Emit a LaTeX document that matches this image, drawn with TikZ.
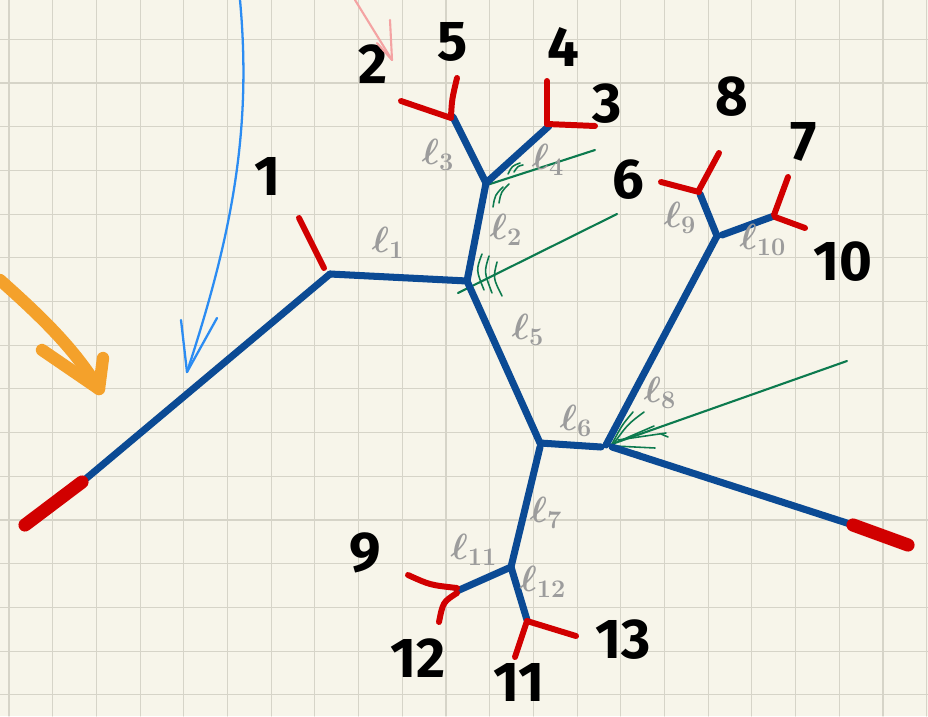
\documentclass[tikz,border=0pt]{standalone}
\usepackage{fontspec}
\usepackage{tikz}
\usetikzlibrary{positioning}
\newfontfamily\numfont{Fira Sans}

\definecolor{paper}{HTML}{F7F5EA}
\definecolor{gridc}{HTML}{D6D4C8}
\definecolor{treeblue}{HTML}{0B4A94}
\definecolor{leafred}{HTML}{D10000}
\definecolor{hatchgreen}{HTML}{0C7A4E}
\definecolor{markorange}{HTML}{F4A12B}
\definecolor{skyblue}{HTML}{2B8CF2}
\definecolor{pinkish}{HTML}{F4A3A3}
\definecolor{lgray}{HTML}{9C9C9C}

\begin{document}
\begin{tikzpicture}[
  x=0.02cm, y=-0.02cm, line cap=round, line join=round,
  branch/.style={treeblue, line width=4pt},
  leaf/.style={leafred, line width=3.4pt},
  stemend/.style={leafred, line width=7.5pt},
  hatch/.style={hatchgreen, line width=0.9pt},
  num/.style={inner sep=0pt, font=\fontsize{32}{32}\selectfont\numfont\bfseries},
  len/.style={font=\fontsize{20}{20}\selectfont\boldmath, text=lgray}
]

% Paper and grid
\fill[paper] (0,0) rectangle (928,716);
\useasboundingbox (0,0) rectangle (928,716);
\foreach \i in {0,...,21} \draw[gridc, line width=0.6pt] (9+43.7*\i,0) -- (9+43.7*\i,716);
\foreach \j in {0,...,15} \draw[gridc, line width=0.6pt] (0,39.3+43.7*\j) -- (928,39.3+43.7*\j);

% Inner vertices
\coordinate (jc) at (330,274);
\coordinate (ja) at (467,281);
\coordinate (jb) at (486,183);
\coordinate (jd) at (540,443);
\coordinate (je) at (606,445);
\coordinate (jf) at (717,236);
\coordinate (jg) at (511,567);

% Branch ends
\coordinate (lstem) at (82,482);
\coordinate (rstem) at (853,525);
\coordinate (e25) at (453,117);
\coordinate (e43) at (549,126);
\coordinate (e68) at (700,194);
\coordinate (e710) at (774,216);
\coordinate (e912) at (457,591);
\coordinate (e1113) at (527,620);

% Green cut lines
\draw[hatchgreen, line width=1.2pt] (487,185) -- (595,150);
\draw[hatchgreen, line width=1.2pt] (458,293) -- (617,214);
\draw[hatchgreen, line width=1.2pt] (612,444) -- (847,361);

% Hatching
\draw[hatch] (493,207) .. controls (495,195) .. (503,187);
\draw[hatch] (499,203) .. controls (501,192) .. (509,184);
\draw[hatch] (508,174) .. controls (512,166) .. (520,163);
\draw[hatch] (514,172) .. controls (518,166) .. (523,165);
\draw[hatch] (482,254) .. controls (476,270) .. (484,290);
\draw[hatch] (489,256) .. controls (484,272) .. (492,293);
\draw[hatch] (497,262) .. controls (493,278) .. (502,296);
\draw[hatch] (612,444) .. controls (622,425) .. (633,412);
\draw[hatch] (614,443) .. controls (628,424) .. (644,412);
\draw[hatch] (617,442) -- (654,426);
\draw[hatch] (618,440) -- (666,433);
\draw[hatch] (615,446) -- (655,448);
\draw[hatch] (614,447) -- (640,453);
\draw[hatch] (661,434) -- (668,437);

% Tree
\draw[branch] (lstem) -- (jc);
\draw[branch] (jc) -- (ja);
\draw[branch] (ja) -- (jb);
\draw[branch] (jb) -- (e25);
\draw[branch] (jb) -- (e43);
\draw[branch] (ja) -- (jd);
\draw[branch] (jd) -- (601,447);
\draw[branch] (je) -- (jf);
\draw[branch] (jf) -- (e68);
\draw[branch] (722,235) -- (e710);
\draw[branch] (612,447) -- (rstem);
\draw[branch] (540,447) -- (jg);
\draw[branch] (jg) -- (e912);
\draw[branch] (jg) -- (e1113);

% Leaves
\draw[stemend] (lstem) -- (25,525);
\draw[stemend] (rstem) -- (908,545);
\draw[leaf] (324,268) -- (299,218);
\draw[leaf] (451,118) -- (401,101);
\draw[leaf] (451,116) .. controls (452,99) .. (457,78);
\draw[leaf] (547,124) -- (547,81);
\draw[leaf] (547,124) -- (595,126);
\draw[leaf] (699,192) -- (661,182);
\draw[leaf] (699,190) -- (719,153);
\draw[leaf] (774,215) -- (788,177);
\draw[leaf] (775,217) -- (805,228);
\draw[leaf] (457,588) .. controls (430,585) .. (408,575);
\draw[leaf] (457,593) .. controls (443,602) .. (439,622);
\draw[leaf] (527,621) -- (515,657);
\draw[leaf] (527,621) -- (576,636);

% Leaf numbers
\node[num] (n1) at (268,176) {1};
\node[num] (n2) at (373,64) {2};
\node[num] (n5) at (453,42) {5};
\node[num] (n4) at (563,47) {4};
\node[num] (n3) at (607,104) {3};
\node[num] (n6) at (628,180) {6};
\node[num] (n8) at (732,97) {8};
\node[num] (n7) at (804,142) {7};
\node[num] (n10) at (843,262) {10};
\node[num] (n9) at (365,553) {9};
\node[num] (n12) at (418,658) {12};
\node[num] (n11) at (519,682) {11};
\node[num] (n13) at (623,640) {13};

% Branch lengths
\node[len] (l1) at (388,243) {$\ell_1$};
\node[len] (l2) at (506,230) {$\ell_2$};
\node[len] (l3) at (438,155) {$\ell_3$};
\node[len] (l4) at (548,160) {$\ell_4$};
\node[len] (l5) at (528,330) {$\ell_5$};
\node[len] (l6) at (576,421) {$\ell_6$};
\node[len] (l7) at (546,513) {$\ell_7$};
\node[len] (l8) at (660,393) {$\ell_8$};
\node[len] (l9) at (680,218) {$\ell_9$};
\node[len] (l10) at (763,240) {$\ell_{10}$};
\node[len] (l11) at (474,550) {$\ell_{11}$};
\node[len] (l12) at (543,582) {$\ell_{12}$};

% Marker arrows
\coordinate (otip) at (99,389);
\draw[markorange, line width=7pt] (0,280) .. controls (45,320) and (75,350) .. (otip);
\draw[markorange, line width=7pt] (42,350) -- (otip) -- (103,358);
\coordinate (btip) at (187,372);
\draw[skyblue, line width=1.3pt] (240,0) .. controls (252,130) and (232,235) .. (btip);
\draw[skyblue, line width=1.3pt] (181,320) -- (btip) -- (217,318);
\coordinate (ptip) at (392,60);
\draw[pinkish, line width=1.2pt] (355,0) -- (ptip);
\draw[pinkish, line width=1.2pt] (390,20) -- (ptip) -- (377,43);

\end{tikzpicture}
\end{document}
